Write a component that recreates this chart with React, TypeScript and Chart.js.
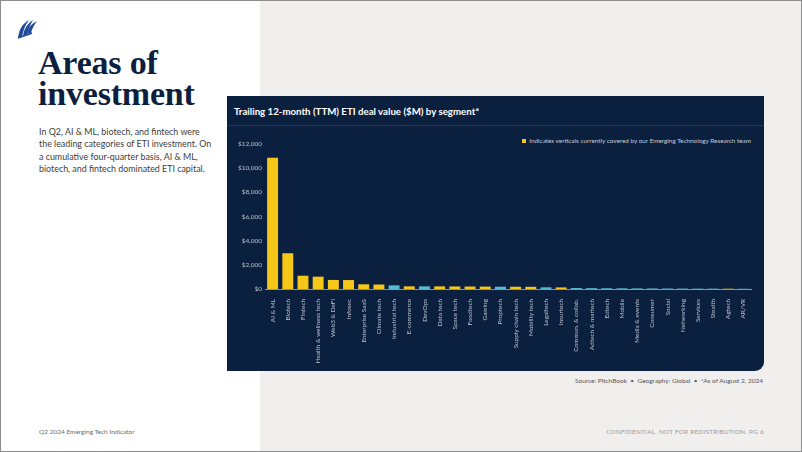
import React, { useEffect, useRef } from "react";
import { Chart, registerables } from "chart.js";

Chart.register(...registerables);

const categories = [
  "AI & ML", "Biotech", "Fintech", "Health & wellness tech", "Web3 & DeFi", "Infosec",
  "Enterprise SaaS", "Climate tech", "Industrial tech", "E-commerce", "DevOps", "Data tech",
  "Space tech", "Foodtech", "Gaming", "Proptech", "Supply chain tech", "Mobility tech",
  "Legaltech", "Insurtech", "Commun. & collab.", "Adtech & martech", "Edtech", "Mobile",
  "Media & events", "Consumer", "Social", "Networking", "Services", "Stealth", "Agtech", "AR/VR",
];

const dealValues = [
  10870, 2960, 1100, 1020, 750, 740,
  390, 370, 300, 220, 220, 215,
  210, 205, 200, 190, 185, 180,
  140, 130, 80, 70, 60, 55,
  50, 45, 40, 35, 30, 30, 25, 20,
];

const coveredVerticals = [
  true, true, true, true, true, true,
  true, true, false, true, false, true,
  true, true, true, false, true, true,
  false, true, false, false, false, false,
  false, false, false, false, false, false, true, false,
];

const yTicks = [0, 2000, 4000, 6000, 8000, 10000, 12000];

const YELLOW = "#f6c619";
const CYAN = "#55bcd3";
const NAVY = "#0b1f3e";

export default function App() {
  const canvasRef = useRef<HTMLCanvasElement | null>(null);

  useEffect(() => {
    document.body.style.margin = "0";
    const ctx = canvasRef.current!;
    const chart = new Chart(ctx, {
      type: "bar",
      data: {
        labels: categories,
        datasets: [
          {
            data: dealValues,
            backgroundColor: coveredVerticals.map((c) => (c ? YELLOW : CYAN)),
            borderWidth: 0,
            barPercentage: 0.8,
            categoryPercentage: 0.9,
          },
        ],
      },
      options: {
        animation: false,
        responsive: false,
        maintainAspectRatio: false,
        layout: { padding: { top: 13, right: 13, left: 0, bottom: 0 } },
        plugins: { legend: { display: false }, tooltip: { enabled: false } },
        scales: {
          x: {
            grid: { display: false },
            border: { display: true, color: "#8793a6", width: 1 },
            ticks: {
              color: "#b9c2cf",
              font: { family: "Lato", size: 6.4 },
              maxRotation: 90,
              minRotation: 90,
              autoSkip: false,
              padding: 2,
            },
            afterFit: (scale: any) => {
              scale.height = 82;
            },
          },
          y: {
            min: 0,
            max: 12000,
            afterBuildTicks: (scale: any) => {
              scale.ticks = yTicks.map((v) => ({ value: v }));
            },
            grid: { display: false },
            border: { display: false },
            ticks: {
              color: "#b9c2cf",
              font: { family: "Lato", size: 6.5 },
              padding: -5,
              callback: (v: any) => "$" + Number(v).toLocaleString("en-US"),
            },
            afterFit: (scale: any) => {
              scale.width = 38;
            },
          },
        },
      },
    });
    return () => chart.destroy();
  }, []);

  const sans = "Lato, 'Open Sans', sans-serif";

  return (
    <div
      style={{
        position: "fixed",
        left: 0,
        top: 0,
        width: 802,
        height: 452,
        boxSizing: "border-box",
        border: "1.5px solid #8c8c8c",
        background: "#ffffff",
        overflow: "hidden",
        fontFamily: sans,
      }}
    >
      <div style={{ position: "absolute", left: 259, top: 0, right: 0, bottom: 0, background: "#f0efed" }} />
      <svg style={{ position: "absolute", left: 15, top: 16 }} width="22" height="22" viewBox="0 0 22 22">
        <path d="M2 21 C3 13 6 7 13 3 C9 8 7 14 6 20 Z" fill="#1f4b99" />
        <path d="M7 19 C8 12 11 7 17 3 C14 8 12 13 11 18 Z" fill="#1f4b99" />
        <path d="M11 17 C12 11 15 7 21 4 C18 8 16 12 15 16 Z" fill="#1f4b99" />
        <path d="M2 21 C7 19 12 18 16 16" stroke="#1f4b99" strokeWidth="1.5" fill="none" />
      </svg>
      <div
        style={{
          position: "absolute",
          left: 37,
          top: 46,
          fontFamily: "'Liberation Serif', 'Times New Roman', serif",
          fontWeight: 700,
          fontSize: 34,
          lineHeight: "31px",
          color: "#0d1f3f",
          letterSpacing: "-0.2px",
        }}
      >
        Areas of
        <br />
        investment
      </div>
      <div
        style={{
          position: "absolute",
          left: 38,
          top: 125,
          fontSize: 8.9,
          lineHeight: "12.3px",
          color: "#3d3d3d",
        }}
      >
        In Q2, AI &amp; ML, biotech, and fintech were
        <br />
        the leading categories of ETI investment. On
        <br />
        a cumulative four-quarter basis, AI &amp; ML,
        <br />
        biotech, and fintech dominated ETI capital.
      </div>

      <div
        style={{
          position: "absolute",
          left: 226,
          top: 95,
          width: 537,
          height: 275,
          background: NAVY,
          borderRadius: "0 0 9px 0",
        }}
      >
        <div
          style={{
            position: "absolute",
            left: 7,
            top: 9,
            color: "#ffffff",
            fontSize: 9.7,
            fontWeight: 700,
            whiteSpace: "nowrap",
          }}
        >
          Trailing 12-month (TTM) ETI deal value ($M) by segment*
        </div>
        <div style={{ position: "absolute", left: 0, right: 0, top: 29, height: 1, background: "#22385a" }} />
        <div
          style={{
            position: "absolute",
            right: 13,
            top: 41,
            color: "#c6ccd6",
            fontSize: 6.35,
            whiteSpace: "nowrap",
            display: "flex",
            alignItems: "center",
          }}
        >
          <span style={{ display: "inline-block", width: 4, height: 4, background: YELLOW, marginRight: 3 }} />
          Indicates verticals currently covered by our Emerging Technology Research team
        </div>
        <canvas
          ref={canvasRef}
          width={537}
          height={240}
          style={{ position: "absolute", left: 0, top: 35, width: 537, height: 240 }}
        />
      </div>

      <div
        style={{
          position: "absolute",
          right: 38,
          top: 376,
          fontSize: 6.5,
          color: "#555555",
          whiteSpace: "nowrap",
        }}
      >
        Source: PitchBook &nbsp;•&nbsp; Geography: Global &nbsp;•&nbsp; *As of August 2, 2024
      </div>
      <div style={{ position: "absolute", left: 38, top: 427, fontSize: 6.5, color: "#6e6e6e" }}>
        Q2 2024 Emerging Tech Indicator
      </div>
      <div
        style={{
          position: "absolute",
          right: 37,
          top: 427,
          fontSize: 6.3,
          color: "#9a9a9a",
          letterSpacing: "0.3px",
          whiteSpace: "nowrap",
        }}
      >
        CONFIDENTIAL. NOT FOR REDISTRIBUTION. PG 6
      </div>
    </div>
  );
}
